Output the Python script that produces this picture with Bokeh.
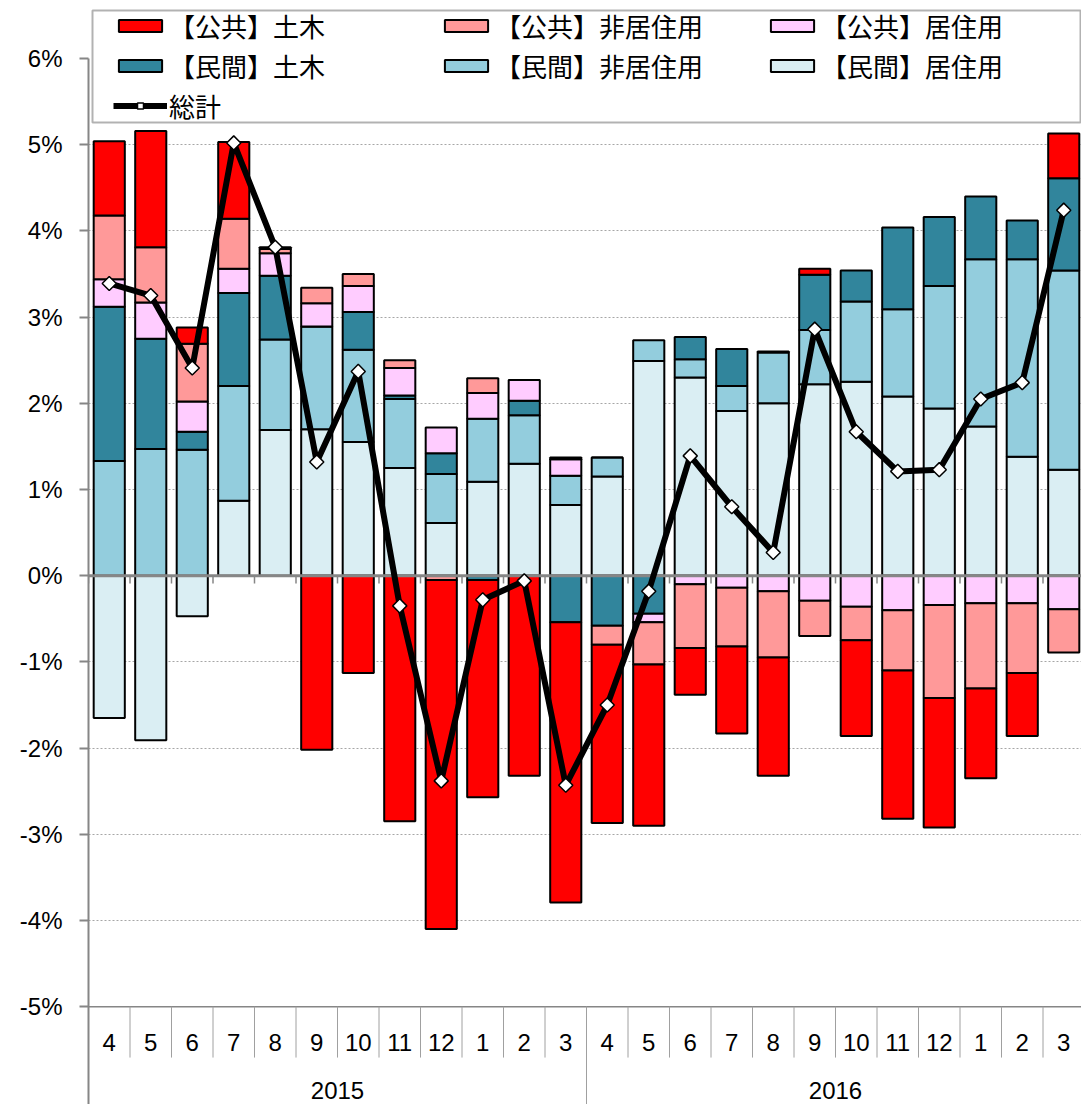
import numpy as np
from bokeh.plotting import figure
from bokeh.models import (Range1d, FixedTicker, PrintfTickFormatter, Legend,
                          LegendItem, BoxAnnotation)
from bokeh.core.properties import value
from bokeh.embed import file_html
from bokeh.resources import INLINE

# ---------------- data (%) ----------------
months = ["4", "5", "6", "7", "8", "9", "10", "11", "12", "1", "2", "3",
          "4", "5", "6", "7", "8", "9", "10", "11", "12", "1", "2", "3"]
years = ["2015", "2016"]

pub_civil = [0.86, 1.35, 0.19, 0.89, 0.02, -2.02, -1.13, -2.85, -4.05, -2.52, -2.32, -3.25,
             -2.07, -1.87, -0.54, -1.01, -1.37, 0.07, -1.11, -1.72, -1.50, -1.04, -0.73, 0.52]
pub_nonres = [0.74, 0.64, 0.67, 0.58, 0.05, 0.18, 0.14, 0.09, -0.05, 0.17, 0.00, 0.02,
              -0.22, -0.49, -0.74, -0.68, -0.77, -0.41, -0.39, -0.70, -1.08, -0.99, -0.81, -0.50]
pub_res = [0.32, 0.42, 0.35, 0.28, 0.26, 0.27, 0.30, 0.32, 0.30, 0.30, 0.24, 0.19,
           0.00, -0.10, -0.10, -0.14, -0.18, -0.29, -0.36, -0.40, -0.34, -0.32, -0.32, -0.39]
priv_civil = [1.79, 1.28, 0.21, 1.08, 0.74, 0.00, 0.44, 0.04, 0.24, -0.05, 0.17, -0.54,
              -0.58, -0.44, 0.26, 0.43, 0.01, 0.64, 0.36, 0.95, 0.80, 0.73, 0.45, 1.07]
priv_nonres = [1.33, 1.47, 1.46, 1.33, 1.05, 1.19, 1.07, 0.80, 0.57, 0.73, 0.56, 0.34,
               0.22, 0.24, 0.21, 0.29, 0.59, 0.63, 0.93, 1.01, 1.42, 1.94, 2.29, 2.31]
priv_res = [-1.65, -1.91, -0.47, 0.87, 1.69, 1.70, 1.55, 1.25, 0.61, 1.09, 1.30, 0.82,
            1.15, 2.49, 2.30, 1.91, 2.00, 2.22, 2.25, 2.08, 1.94, 1.73, 1.38, 1.23]
total = [3.39, 3.25, 2.41, 5.02, 3.81, 1.32, 2.37, -0.35, -2.38, -0.28, -0.06, -2.43,
         -1.50, -0.18, 1.39, 0.80, 0.27, 2.86, 1.67, 1.21, 1.23, 2.05, 2.24, 4.24]

names = {
    "pub_civil": "【公共】土木",
    "pub_nonres": "【公共】非居住用",
    "pub_res": "【公共】居住用",
    "priv_civil": "【民間】土木",
    "priv_nonres": "【民間】非居住用",
    "priv_res": "【民間】居住用",
}
colors = {
    "pub_civil": "#FF0000",
    "pub_nonres": "#FF9999",
    "pub_res": "#FFCCFF",
    "priv_civil": "#31859C",
    "priv_nonres": "#93CDDD",
    "priv_res": "#DAEEF3",
}
series = {
    "pub_civil": pub_civil, "pub_nonres": pub_nonres, "pub_res": pub_res,
    "priv_civil": priv_civil, "priv_nonres": priv_nonres, "priv_res": priv_res,
}
stack_order = ["priv_res", "priv_nonres", "priv_civil", "pub_res", "pub_nonres", "pub_civil"]
legend_order = ["pub_civil", "pub_nonres", "pub_res", "priv_civil", "priv_nonres", "priv_res"]

# ---------------- figure ----------------
n = len(months)
x = np.arange(1, n + 1)
W, H = 1081, 1104
PX = 86.2            # pixels per 1 %
PXX = 41.5           # pixels per category
TOP6 = 58            # canvas y of the 6 % line
Y_TOP = 6.0 + TOP6 / PX
Y_BOT = 6.0 - (H - TOP6) / PX
LEFT = 88


def cx(px):  # canvas x -> data x (layout helper for the legend frame)
    return 0.5 + (px - LEFT) / PXX


def cy(py):  # canvas y -> data y (layout helper for the legend frame)
    return Y_TOP - py / PX


p = figure(width=W, height=H,
           x_range=Range1d(0.5, cx(W)), y_range=Range1d(Y_BOT, Y_TOP),
           output_backend="svg", toolbar_location=None, x_axis_location=None,
           min_border_left=LEFT, min_border_right=0, min_border_top=0, min_border_bottom=0)
p.outline_line_color = None
p.background_fill_color = "white"
p.xgrid.visible = False

yax = p.yaxis[0]
yax.bounds = (Y_BOT, 6.0)
yax.ticker = FixedTicker(ticks=list(range(-5, 7)))
yax.formatter = PrintfTickFormatter(format="%d%%")
yax.axis_line_color = "#868686"
yax.axis_line_width = 2
yax.major_tick_line_color = "#868686"
yax.major_tick_line_width = 2
yax.major_tick_in = 0
yax.major_tick_out = 9
yax.minor_tick_line_color = None
yax.major_label_text_font = "Liberation Sans"
yax.major_label_text_font_size = "24px"
yax.major_label_text_color = "black"
yax.major_label_standoff = 17

p.ygrid.ticker = FixedTicker(ticks=[-4, -3, -2, -1, 1, 2, 3, 4, 5])
p.ygrid.grid_line_color = "#A6A6A6"
p.ygrid.grid_line_dash = "2 2"
p.ygrid.grid_line_width = 1

# ---------------- stacked bars (positive and negative stacks) ----------------
pos_base = np.zeros(n)
neg_base = np.zeros(n)
rends = {}
for key in stack_order:
    v = np.array(series[key], dtype=float)
    bottom = np.where(v >= 0, pos_base, neg_base + v)
    top = np.where(v >= 0, pos_base + v, neg_base)
    pos_base = pos_base + np.where(v > 0, v, 0)
    neg_base = neg_base + np.where(v < 0, v, 0)
    rends[key] = p.vbar(x=x, width=0.75, bottom=bottom, top=top,
                        fill_color=colors[key], line_color="black", line_width=2)

# ---------------- axis lines / separators ----------------
edges = np.arange(0.5, n + 1, 1.0)
p.segment(x0=[0.5], y0=[0], x1=[n + 0.5], y1=[0], line_color="#868686", line_width=3)
p.segment(x0=edges, y0=np.zeros(len(edges)), x1=edges, y1=np.full(len(edges), -0.09),
          line_color="#868686", line_width=1.5)
p.segment(x0=[0.5], y0=[-5], x1=[n + 0.5], y1=[-5], line_color="#868686", line_width=1.5)
p.segment(x0=edges, y0=np.full(len(edges), -5.0), x1=edges, y1=np.full(len(edges), -5.59),
          line_color="#A0A0A0", line_width=1)
year_edges = [12.5, 24.5]
p.segment(x0=year_edges, y0=[-5, -5], x1=year_edges, y1=[Y_BOT, Y_BOT],
          line_color="#A0A0A0", line_width=1)

p.text(x=x, y=np.full(n, -5.42), text=months, text_align="center", text_baseline="middle",
       text_font=value("Liberation Sans"), text_font_size="24px", text_color="black")
p.text(x=[6.5, 18.5], y=[-5.97, -5.97], text=years, text_align="center",
       text_baseline="middle", text_font=value("Liberation Sans"), text_font_size="24px",
       text_color="black")

# ---------------- total line ----------------
line_r = p.line(x=x, y=total, line_color="black", line_width=6)
mark_r = p.scatter(x=x, y=total, marker="square", size=10, angle=np.pi / 4,
                   fill_color="white", line_color="black", line_width=1.5)

# ---------------- legend ----------------
box = BoxAnnotation(left=cx(92), right=cx(1080), top=cy(10), bottom=cy(122),
                    fill_color="white", fill_alpha=1.0,
                    line_color="black", line_width=2)
p.add_layout(box)

items = [LegendItem(label=names[k], renderers=[rends[k]]) for k in legend_order]
items.append(LegendItem(label="総計", renderers=[line_r, mark_r]))
legend = Legend(items=items, location=(113 - LEFT, H - 124), orientation="horizontal", ncols=3,
                padding=0, spacing=3, margin=0,
                glyph_width=54, glyph_height=15, label_width=267, label_height=30,
                label_standoff=2, label_text_font="Noto Sans CJK JP",
                label_text_font_size="26px", label_text_color="black",
                border_line_alpha=0, background_fill_alpha=0)
p.add_layout(legend, "center")

open("out.html", "w").write(file_html(p, INLINE))
